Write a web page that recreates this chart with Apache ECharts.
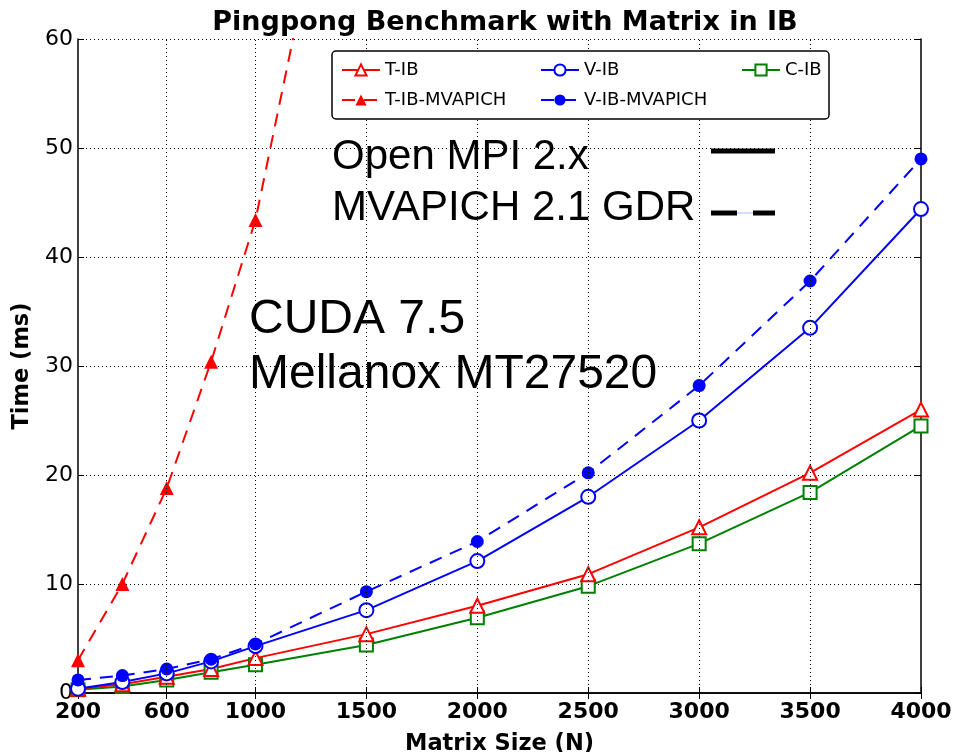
<!DOCTYPE html>
<html>
<head>
<meta charset="utf-8">
<script src="https://cdn.jsdelivr.net/npm/echarts@6/dist/echarts.min.js"></script>
<style>
html,body{margin:0;padding:0;background:#fff;}
#chart{width:956px;height:752px;}
</style>
</head>
<body>
<div id="chart"></div>
<script>
const xTickLabels = [200, 600, 1000, 1500, 2000, 2500, 3000, 3500, 4000];
const xGridLines = [600, 1000, 1500, 2000, 2500, 3000, 3500];
const sizes = [200, 400, 600, 800, 1000, 1500, 2000, 2500, 3000, 3500, 4000];
const tIB = [0.4, 0.8, 1.5, 2.2, 3.2, 5.4, 8.0, 10.9, 15.2, 20.2, 26.0];
const vIB = [0.4, 1.0, 1.8, 2.9, 4.3, 7.6, 12.1, 18.0, 25.0, 33.5, 44.4];
const cIB = [0.3, 0.6, 1.2, 1.9, 2.6, 4.4, 6.9, 9.8, 13.7, 18.4, 24.5];
const vIBmv = [1.2, 1.6, 2.2, 3.1, 4.5, 9.3, 13.9, 20.2, 28.2, 37.8, 49.0];
const tIBmvSizes = [200, 400, 600, 800, 1000, 1500];
const tIBmv = [3.0, 10.0, 18.8, 30.4, 43.4, 92.5];

const pairs = (xs, ys) => xs.map((x, i) => [x, ys[i]]);

const chart = echarts.init(document.getElementById('chart'), null, {renderer: 'canvas'});
const FONT = 'DejaVu Sans';
const legendText = {fontFamily: FONT, fontSize: 18, color: '#000'};
const legendCommon = {orient: 'vertical', top: 56, itemWidth: 38, itemHeight: 14, itemGap: 12, textStyle: legendText, z: 10};

const option = {
  backgroundColor: '#fff',
  animation: false,
  title: {
    text: 'Pingpong Benchmark with Matrix in IB',
    left: 500, top: 4, textAlign: 'center',
    textStyle: {fontFamily: FONT, fontWeight: 'bold', fontSize: 27, color: '#000'}
  },
  grid: {left: 78, right: 35, top: 39, bottom: 59, containLabel: false, outerBoundsMode: 'none'},
  legend: [
    Object.assign({data: ['T-IB', 'T-IB-MVAPICH'], left: 336}, legendCommon),
    Object.assign({data: ['V-IB', 'V-IB-MVAPICH'], left: 535}, legendCommon),
    Object.assign({data: ['C-IB'], left: 736}, legendCommon)
  ],
  xAxis: [{
    type: 'value', min: 200, max: 4000,
    name: 'Matrix Size (N)', nameLocation: 'middle', nameGap: 40,
    nameTextStyle: {fontFamily: FONT, fontWeight: 'bold', fontSize: 22.5, color: '#000'},
    axisLine: {lineStyle: {color: '#000', width: 1.5}},
    axisTick: {inside: true, length: 6, lineStyle: {color: '#000'}, customValues: xTickLabels},
    axisLabel: {customValues: xTickLabels, formatter: v => String(v), fontFamily: FONT, fontWeight: 'bold', fontSize: 22, color: '#000', margin: 8},
    splitLine: {show: false}
  }, {
    type: 'value', min: 200, max: 4000, position: 'top',
    axisLine: {lineStyle: {color: '#000', width: 1.5}},
    axisTick: {inside: true, length: 6, lineStyle: {color: '#000'}, customValues: xTickLabels},
    axisLabel: {show: false},
    splitLine: {show: false}
  }],
  yAxis: [{
    type: 'value', min: 0, max: 60, interval: 10,
    name: 'Time (ms)', nameLocation: 'middle', nameGap: 41,
    nameTextStyle: {fontFamily: FONT, fontWeight: 'bold', fontSize: 22.5, color: '#000'},
    axisLine: {show: true, lineStyle: {color: '#000', width: 1.5}},
    axisTick: {show: true, inside: true, length: 6, lineStyle: {color: '#000'}},
    axisLabel: {fontFamily: FONT, fontSize: 22, color: '#000', margin: 5},
    splitLine: {show: true, lineStyle: {color: '#000', type: [1, 3], width: 1}}
  }, {
    type: 'value', min: 0, max: 60, interval: 10, position: 'right',
    axisLine: {show: true, lineStyle: {color: '#000', width: 1.5}},
    axisTick: {show: true, inside: true, length: 6, lineStyle: {color: '#000'}},
    axisLabel: {show: false},
    splitLine: {show: false}
  }],
  series: [
    {
      name: 'C-IB', type: 'line', data: pairs(sizes, cIB), z: 3,
      symbol: 'rect', symbolSize: 13,
      lineStyle: {color: '#008000', width: 2},
      itemStyle: {color: '#fff', borderColor: '#008000', borderWidth: 2},
      markLine: {
        silent: true, symbol: 'none', label: {show: false}, animation: false,
        lineStyle: {color: '#000', type: [1, 3], width: 1},
        data: xGridLines.map(v => ({xAxis: v}))
      }
    },
    {
      name: 'T-IB', type: 'line', data: pairs(sizes, tIB), z: 3,
      symbol: 'triangle', symbolSize: 14,
      lineStyle: {color: '#ff0000', width: 2},
      itemStyle: {color: '#fff', borderColor: '#ff0000', borderWidth: 2}
    },
    {
      name: 'T-IB-MVAPICH', type: 'line', data: pairs(tIBmvSizes, tIBmv), z: 3,
      symbol: 'triangle', symbolSize: 14,
      lineStyle: {color: '#ff0000', width: 2, type: [13, 9]},
      itemStyle: {color: '#ff0000'}
    },
    {
      name: 'V-IB', type: 'line', data: pairs(sizes, vIB), z: 3,
      symbol: 'circle', symbolSize: 14,
      lineStyle: {color: '#0000ff', width: 2},
      itemStyle: {color: '#fff', borderColor: '#0000ff', borderWidth: 2}
    },
    {
      name: 'V-IB-MVAPICH', type: 'line', data: pairs(sizes, vIBmv), z: 3,
      symbol: 'circle', symbolSize: 13,
      lineStyle: {color: '#0000ff', width: 2, type: [13, 9]},
      itemStyle: {color: '#0000ff'}
    }
  ],
  graphic: [
    {type: 'rect', z: 8, shape: {x: 332, y: 51, width: 497, height: 68, r: 4},
     style: {fill: '#fff', stroke: '#000', lineWidth: 1.5}},
    {type: 'text', z: 9, x: 332, y: 157, style: {text: 'Open MPI 2.x', font: '42px "Liberation Sans"', fill: '#000', textVerticalAlign: 'middle'}},
    {type: 'text', z: 9, x: 332, y: 208, style: {text: 'MVAPICH 2.1 GDR', font: '42px "Liberation Sans"', fill: '#000', textVerticalAlign: 'middle'}},
    {type: 'line', z: 9, shape: {x1: 711, y1: 151, x2: 775, y2: 151}, style: {stroke: '#000', lineWidth: 5}},
    {type: 'line', z: 9, shape: {x1: 711, y1: 213, x2: 775, y2: 213}, style: {stroke: '#aabbff', lineWidth: 1}},
    {type: 'line', z: 9, shape: {x1: 711, y1: 213, x2: 737, y2: 213}, style: {stroke: '#000', lineWidth: 5}},
    {type: 'line', z: 9, shape: {x1: 753, y1: 213, x2: 775, y2: 213}, style: {stroke: '#000', lineWidth: 5}},
    {type: 'text', z: 9, x: 249, y: 320, style: {text: 'CUDA 7.5', font: '48px "Liberation Sans"', fill: '#000', textVerticalAlign: 'middle'}},
    {type: 'text', z: 9, x: 249, y: 375, style: {text: 'Mellanox MT27520', font: '48px "Liberation Sans"', fill: '#000', textVerticalAlign: 'middle'}}
  ]
};
chart.setOption(option);
</script>
</body>
</html>
